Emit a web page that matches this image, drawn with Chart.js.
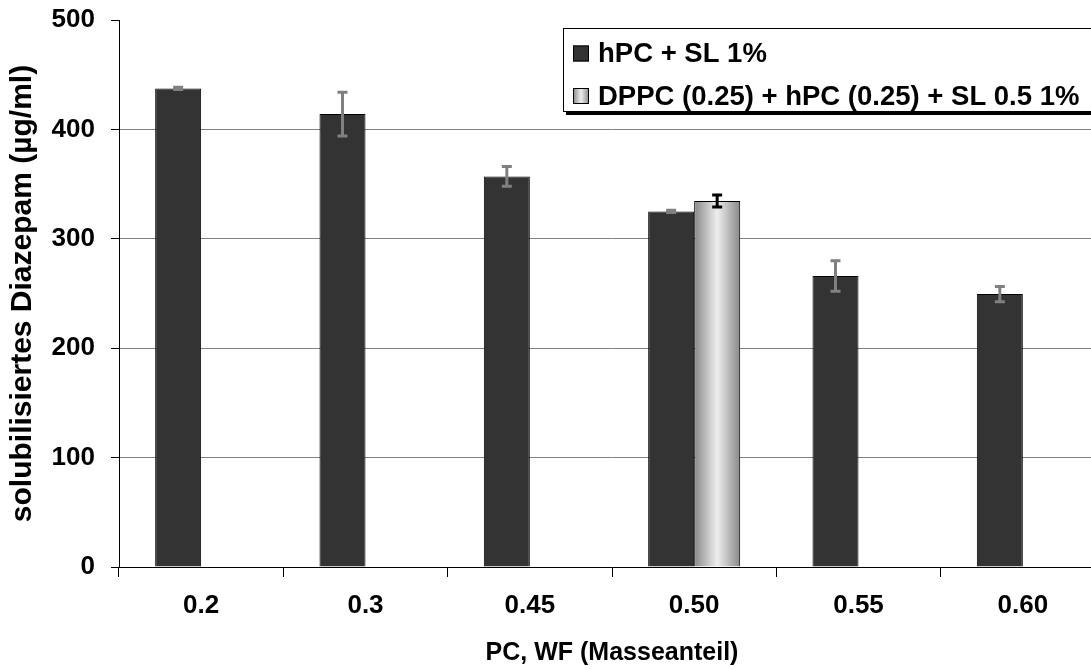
<!DOCTYPE html>
<html>
<head>
<meta charset="utf-8">
<script src="https://cdn.jsdelivr.net/npm/chart.js@4/dist/chart.umd.min.js"></script>
<style>
  html, body { margin: 0; padding: 0; background: #fff; overflow: hidden; }
  #wrap { width: 1112px; height: 670px; }
</style>
</head>
<body>
<div id="wrap"><canvas id="chart"></canvas></div>
<script>
// Daten
const kategorien = ["0.2", "0.3", "0.45", "0.50", "0.55", "0.60"];
const hpc_werte = [437.5, 414, 357, 325, 266, 249.5];
const hpc_fehler = [1, 20, 9, 1, 14, 7];
const dppc_werte = [null, null, null, 334.5, null, null];
const dppc_fehler = [null, null, null, 5.5, null, null];
const y_ticks = [0, 100, 200, 300, 400, 500];

const schrift = "'Liberation Sans', Arial, sans-serif";

// Fehlerbalken
const fehlerPlugin = {
  id: 'fehler',
  afterDatasetsDraw(chart) {
    const ctx = chart.ctx;
    const y = chart.scales.y;
    const reihen = [[hpc_fehler, '#808080'], [dppc_fehler, '#000']];
    reihen.forEach(function(r, di) {
      const meta = chart.getDatasetMeta(di);
      meta.data.forEach(function(bar, i) {
        const v = chart.data.datasets[di].data[i];
        if (v == null || r[0][i] == null) return;
        const top = y.getPixelForValue(v + r[0][i]);
        const bot = y.getPixelForValue(v - r[0][i]);
        ctx.save();
        ctx.strokeStyle = r[1];
        ctx.lineWidth = 3;
        ctx.beginPath();
        ctx.moveTo(bar.x, top); ctx.lineTo(bar.x, bot);
        ctx.moveTo(bar.x - 5, top); ctx.lineTo(bar.x + 5, top);
        ctx.moveTo(bar.x - 5, bot); ctx.lineTo(bar.x + 5, bot);
        ctx.stroke();
        ctx.restore();
      });
    });
  }
};

// Verlauf fuer DPPC-Balken
const verlaufPlugin = {
  id: 'verlauf',
  beforeDatasetDraw(chart, args) {
    if (args.index !== 1) return;
    const ctx = chart.ctx;
    args.meta.data.forEach(function(bar, i) {
      if (chart.data.datasets[1].data[i] == null) return;
      const g = ctx.createLinearGradient(bar.x - bar.width / 2, 0, bar.x + bar.width / 2, 0);
      g.addColorStop(0, '#888888');
      g.addColorStop(0.5, '#eeeeee');
      g.addColorStop(1, '#888888');
      bar.options.backgroundColor = g;
    });
  }
};

// Legende im Diagramm
const legendePlugin = {
  id: 'legende',
  afterDraw(chart) {
    const ctx = chart.ctx;
    const x0 = 563, y0 = 28, x1 = 1104, y1 = 111;
    ctx.save();
    ctx.fillStyle = '#000';
    ctx.fillRect(x0 + 3, y0 + 3, x1 - x0 + 1, y1 - y0 + 1);
    ctx.fillStyle = '#fff';
    ctx.fillRect(x0, y0, x1 - x0, y1 - y0);
    ctx.strokeStyle = '#000';
    ctx.lineWidth = 1;
    ctx.strokeRect(x0 + 0.5, y0 + 0.5, x1 - x0, y1 - y0);
    const zeilen = [53.5, 96];
    chart.data.datasets.forEach(function(ds, i) {
      const yy = zeilen[i];
      if (i === 0) {
        ctx.fillStyle = '#333';
      } else {
        const g = ctx.createLinearGradient(573, 0, 589, 0);
        g.addColorStop(0, '#888888');
        g.addColorStop(0.5, '#eeeeee');
        g.addColorStop(1, '#888888');
        ctx.fillStyle = g;
      }
      ctx.fillRect(573, yy - 8, 16, 16);
      ctx.strokeRect(573.5, yy - 7.5, 15, 15);
      ctx.fillStyle = '#000';
      ctx.font = 'bold 27.5px ' + schrift;
      ctx.textBaseline = 'middle';
      ctx.fillText(ds.label, 598, yy + 1);
    });
    ctx.restore();
  }
};

Chart.defaults.font.family = schrift;
Chart.defaults.color = '#000';

new Chart(document.getElementById('chart'), {
  type: 'bar',
  data: {
    labels: kategorien,
    datasets: [{
      label: 'hPC + SL 1%',
      data: hpc_werte,
      backgroundColor: '#333333',
      borderColor: '#000',
      borderWidth: 1
    }, {
      label: 'DPPC (0.25) + hPC (0.25) + SL 0.5 1%',
      data: dppc_werte,
      backgroundColor: '#cccccc',
      borderColor: '#000',
      borderWidth: 1
    }]
  },
  options: {
    responsive: true,
    maintainAspectRatio: false,
    animation: false,
    layout: { padding: { top: 20, right: 7, left: 0, bottom: 0 } },
    categoryPercentage: 0.56,
    barPercentage: 1,
    plugins: {
      legend: { display: false },
      tooltip: { enabled: false }
    },
    scales: {
      x: {
        afterFit: function(s) { s.height = 103; s.paddingLeft = 0; s.paddingRight = 0; },
        grid: { offset: true, drawOnChartArea: false, tickLength: 10, color: '#000' },
        border: { color: '#000' },
        ticks: { font: { size: 26, weight: 'bold' }, padding: 13 },
        title: {
          display: true,
          text: 'PC, WF (Masseanteil)',
          font: { size: 25, weight: 'bold' },
          padding: { top: 0, bottom: 2 }
        }
      },
      y: {
        min: 0,
        max: 500,
        afterFit: function(s) { s.width = 119; s.paddingTop = 0; s.paddingBottom = 0; },
        afterBuildTicks: function(s) { s.ticks = y_ticks.map(function(v) { return { value: v }; }); },
        grid: {
          color: function(c) { return c.tick && c.tick.value === 500 ? 'rgba(0,0,0,0)' : '#808080'; },
          tickColor: '#000',
          tickLength: 8
        },
        border: { color: '#000' },
        ticks: { font: { size: 26, weight: 'bold' }, padding: 16 },
        title: {
          display: true,
          text: 'solubilisiertes Diazepam (µg/ml)',
          font: { size: 30, weight: 'bold' },
          padding: { top: 5, bottom: 0 }
        }
      }
    }
  },
  plugins: [verlaufPlugin, fehlerPlugin, legendePlugin]
});
</script>
</body>
</html>
